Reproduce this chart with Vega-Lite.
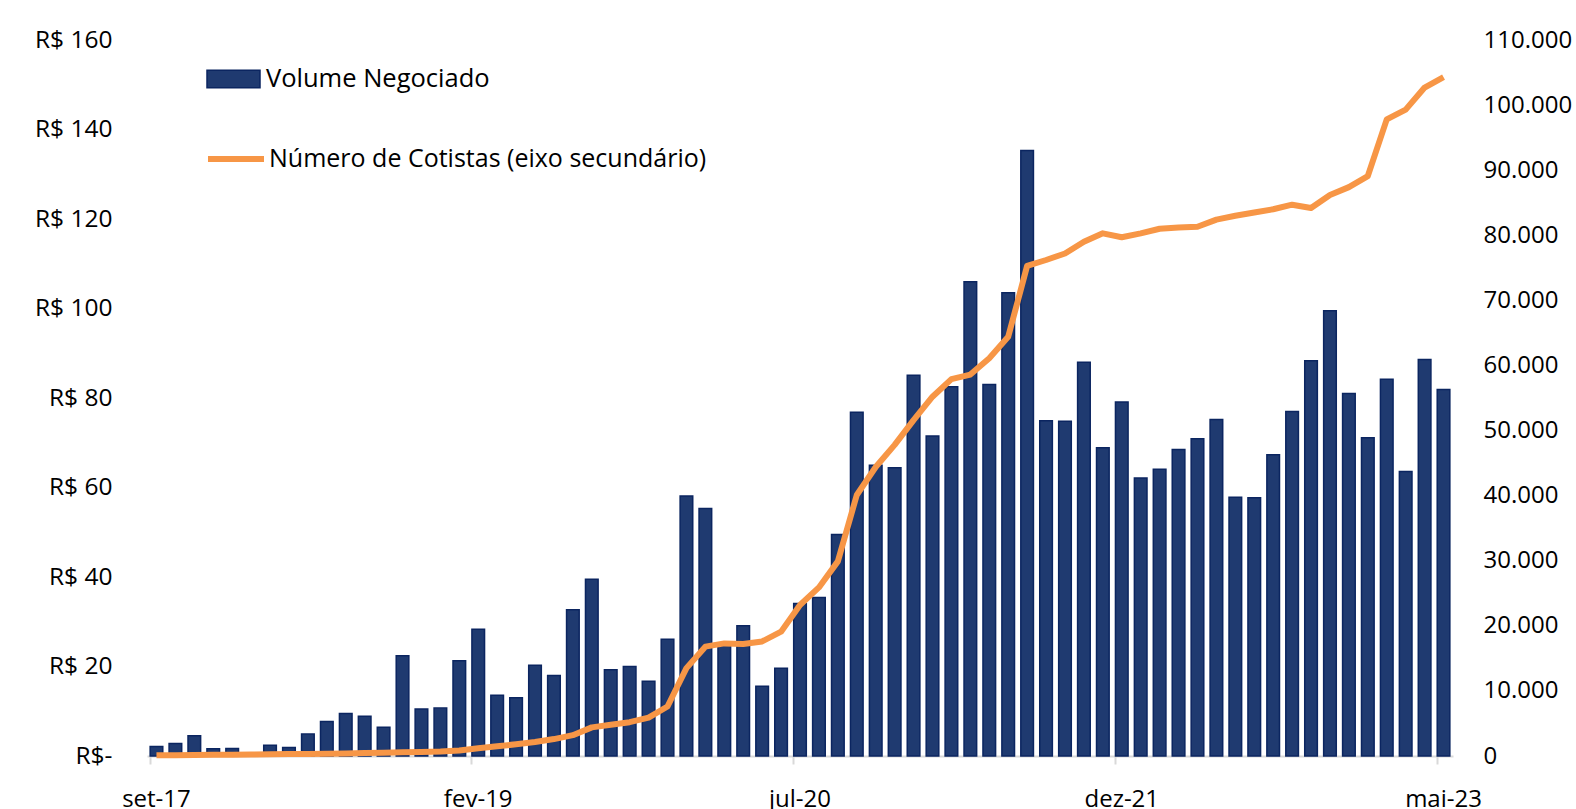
{
  "$schema": "https://vega.github.io/schema/vega-lite/v6.json",
  "width": 1306,
  "height": 716,
  "autosize": {"type": "none"},
  "padding": {"left": 147, "top": 40, "right": 123, "bottom": 53},
  "background": "white",
  "config": {
    "font": "Open Sans",
    "view": {"stroke": null},
    "axis": {"grid": false, "labelColor": "#000000", "labelFont": "Open Sans", "labelOverlap": false},
    "legend": {"labelFont": "Open Sans", "labelColor": "#000000"}
  },
  "data": {
    "values": [
      {"mes": "set-17", "volume": 2.1, "cotistas": 100},
      {"mes": "out-17", "volume": 2.8, "cotistas": 120},
      {"mes": "nov-17", "volume": 4.5, "cotistas": 150},
      {"mes": "dez-17", "volume": 1.6, "cotistas": 180},
      {"mes": "jan-18", "volume": 1.7, "cotistas": 200},
      {"mes": "fev-18", "volume": 0.7, "cotistas": 230},
      {"mes": "mar-18", "volume": 2.4, "cotistas": 260},
      {"mes": "abr-18", "volume": 1.9, "cotistas": 290},
      {"mes": "mai-18", "volume": 4.9, "cotistas": 320},
      {"mes": "jun-18", "volume": 7.7, "cotistas": 360},
      {"mes": "jul-18", "volume": 9.5, "cotistas": 400},
      {"mes": "ago-18", "volume": 8.9, "cotistas": 450},
      {"mes": "set-18", "volume": 6.4, "cotistas": 500},
      {"mes": "out-18", "volume": 22.4, "cotistas": 560},
      {"mes": "nov-18", "volume": 10.5, "cotistas": 620},
      {"mes": "dez-18", "volume": 10.7, "cotistas": 700},
      {"mes": "jan-19", "volume": 21.3, "cotistas": 850},
      {"mes": "fev-19", "volume": 28.3, "cotistas": 1200},
      {"mes": "mar-19", "volume": 13.6, "cotistas": 1500},
      {"mes": "abr-19", "volume": 13.0, "cotistas": 1800},
      {"mes": "mai-19", "volume": 20.3, "cotistas": 2150},
      {"mes": "jun-19", "volume": 18.0, "cotistas": 2600},
      {"mes": "jul-19", "volume": 32.7, "cotistas": 3200},
      {"mes": "ago-19", "volume": 39.5, "cotistas": 4400},
      {"mes": "set-19", "volume": 19.3, "cotistas": 4800},
      {"mes": "out-19", "volume": 20.0, "cotistas": 5200},
      {"mes": "nov-19", "volume": 16.7, "cotistas": 5900},
      {"mes": "dez-19", "volume": 26.1, "cotistas": 7600},
      {"mes": "jan-20", "volume": 58.1, "cotistas": 13500},
      {"mes": "fev-20", "volume": 55.3, "cotistas": 16800},
      {"mes": "mar-20", "volume": 25.0, "cotistas": 17300},
      {"mes": "abr-20", "volume": 29.1, "cotistas": 17200},
      {"mes": "mai-20", "volume": 15.6, "cotistas": 17600},
      {"mes": "jun-20", "volume": 19.6, "cotistas": 19100},
      {"mes": "jul-20", "volume": 34.1, "cotistas": 23200},
      {"mes": "ago-20", "volume": 35.4, "cotistas": 25900},
      {"mes": "set-20", "volume": 49.5, "cotistas": 29900},
      {"mes": "out-20", "volume": 76.8, "cotistas": 40100},
      {"mes": "nov-20", "volume": 65.0, "cotistas": 44400},
      {"mes": "dez-20", "volume": 64.4, "cotistas": 47800},
      {"mes": "jan-21", "volume": 85.1, "cotistas": 51600},
      {"mes": "fev-21", "volume": 71.5, "cotistas": 55200},
      {"mes": "mar-21", "volume": 82.5, "cotistas": 57900},
      {"mes": "abr-21", "volume": 106.0, "cotistas": 58600},
      {"mes": "mai-21", "volume": 83.0, "cotistas": 61100},
      {"mes": "jun-21", "volume": 103.5, "cotistas": 64400},
      {"mes": "jul-21", "volume": 135.3, "cotistas": 75300},
      {"mes": "ago-21", "volume": 74.9, "cotistas": 76200},
      {"mes": "set-21", "volume": 74.8, "cotistas": 77200},
      {"mes": "out-21", "volume": 88.0, "cotistas": 79000},
      {"mes": "nov-21", "volume": 68.9, "cotistas": 80300},
      {"mes": "dez-21", "volume": 79.1, "cotistas": 79700},
      {"mes": "jan-22", "volume": 62.1, "cotistas": 80300},
      {"mes": "fev-22", "volume": 64.1, "cotistas": 81000},
      {"mes": "mar-22", "volume": 68.5, "cotistas": 81200},
      {"mes": "abr-22", "volume": 70.9, "cotistas": 81300},
      {"mes": "mai-22", "volume": 75.2, "cotistas": 82400},
      {"mes": "jun-22", "volume": 57.8, "cotistas": 83000},
      {"mes": "jul-22", "volume": 57.7, "cotistas": 83500},
      {"mes": "ago-22", "volume": 67.3, "cotistas": 84000},
      {"mes": "set-22", "volume": 77.0, "cotistas": 84700},
      {"mes": "out-22", "volume": 88.3, "cotistas": 84200},
      {"mes": "nov-22", "volume": 99.5, "cotistas": 86200},
      {"mes": "dez-22", "volume": 81.0, "cotistas": 87400},
      {"mes": "jan-23", "volume": 71.1, "cotistas": 89100},
      {"mes": "fev-23", "volume": 84.2, "cotistas": 97800},
      {"mes": "mar-23", "volume": 63.6, "cotistas": 99300},
      {"mes": "abr-23", "volume": 88.6, "cotistas": 102700},
      {"mes": "mai-23", "volume": 81.9, "cotistas": 104300}
    ]
  },
  "encoding": {
    "x": {
      "field": "mes",
      "type": "ordinal",
      "sort": null,
      "scale": {"paddingInner": 0.333, "paddingOuter": 0.1667},
      "axis": {
        "title": null,
        "values": ["set-17", "fev-19", "jul-20", "dez-21", "mai-23"],
        "labelAngle": 0,
        "labelFontSize": 24,
        "labelBaseline": "alphabetic",
        "labelPadding": 42,
        "bandPosition": 0,
        "tickSize": 8,
        "tickColor": "#D9D9D9",
        "tickWidth": 2,
        "domainColor": "#D9D9D9",
        "domainWidth": 2
      }
    }
  },
  "layer": [
    {
      "mark": {"type": "bar", "stroke": "#0B2560", "strokeWidth": 1.5},
      "encoding": {
        "y": {
          "field": "volume",
          "type": "quantitative",
          "scale": {"domain": [0, 160], "nice": false},
          "axis": {
            "title": null,
            "orient": "left",
            "values": [0, 20, 40, 60, 80, 100, 120, 140, 160],
            "labelExpr": "datum.value == 0 ? 'R$-\u00a0\u00a0\u00a0' : 'R$ ' + datum.value",
            "labelFontSize": 24.5,
            "labelPadding": 35,
            "ticks": false,
            "tickSize": 0,
            "domain": false
          }
        },
        "fill": {
          "datum": "Volume Negociado",
          "type": "nominal",
          "scale": {"range": ["#1F3A70"]},
          "legend": {
            "title": null,
            "orient": "none",
            "legendX": 59,
            "legendY": 11.5,
            "padding": 0,
            "symbolType": "M-1,-0.33H1V0.33H-1Z",
            "symbolSize": 2809,
            "symbolStrokeColor": "#0B2560",
            "symbolStrokeWidth": 1.5,
            "labelFontSize": 25.5,
            "labelOffset": 5,
            "labelLimit": 0
          }
        }
      }
    },
    {
      "mark": {"type": "line", "strokeWidth": 6, "strokeJoin": "round", "strokeCap": "butt"},
      "encoding": {
        "y": {
          "field": "cotistas",
          "type": "quantitative",
          "scale": {"domain": [0, 110000], "nice": false},
          "axis": {
            "title": null,
            "orient": "right",
            "values": [0, 10000, 20000, 30000, 40000, 50000, 60000, 70000, 80000, 90000, 100000, 110000],
            "labelExpr": "replace(format(datum.value, ','), ',', '.')",
            "labelFontSize": 24,
            "labelPadding": 30,
            "ticks": false,
            "tickSize": 0,
            "domain": false
          }
        },
        "stroke": {
          "datum": "Número de Cotistas (eixo secundário)",
          "type": "nominal",
          "scale": {"range": ["#F79646"]},
          "legend": {
            "title": null,
            "orient": "none",
            "legendX": 58,
            "legendY": 88,
            "padding": 0,
            "symbolType": "stroke",
            "symbolSize": 3136,
            "symbolStrokeWidth": 6,
            "labelFontSize": 25,
            "labelOffset": 2,
            "labelLimit": 0
          }
        }
      }
    }
  ],
  "resolve": {"scale": {"y": "independent"}}
}
